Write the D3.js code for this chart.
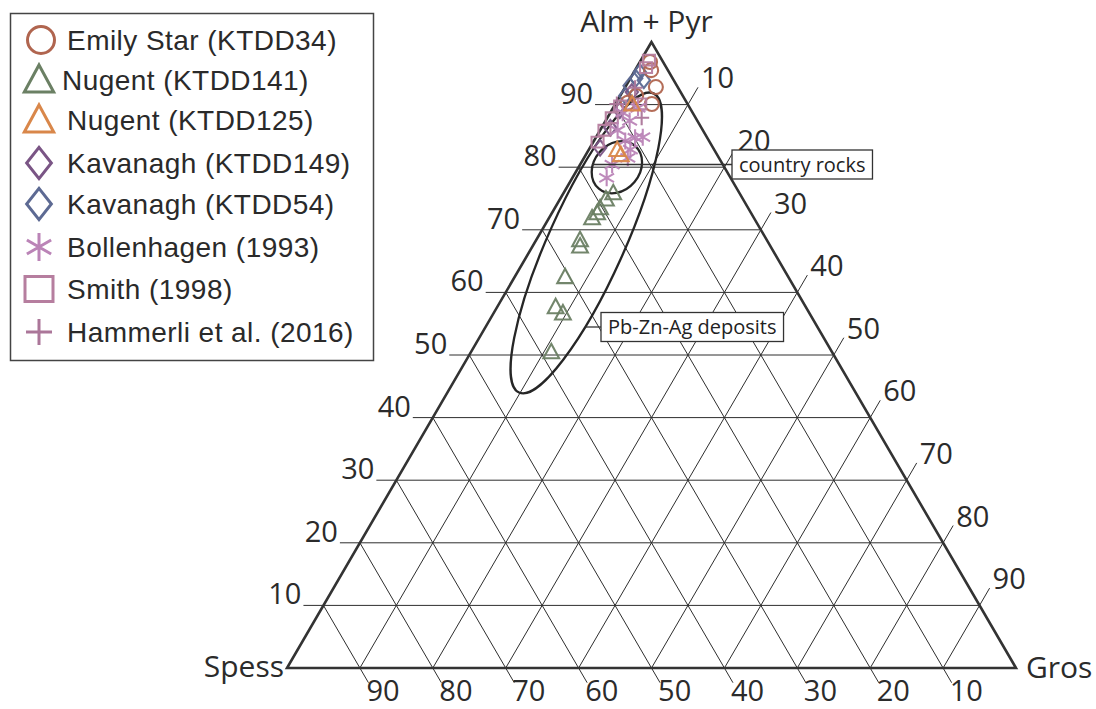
<!DOCTYPE html>
<html>
<head>
<meta charset="utf-8">
<script src="https://cdn.jsdelivr.net/npm/d3@7"></script>
<style>
  body { margin: 0; background: #fff; }
  svg { display: block; }
</style>
</head>
<body>
<div id="chart"></div>
<script>
// garnet compositions, [Alm+Pyr, Spess, Gros] in %
var emilyStar = [[96.8,1.8,1.4],[95.5,2.3,2.2],[92.8,3.0,4.2],[90.1,4.9,5.0],[91.4,6.4,2.2],[90.3,8.1,1.6]];
var nugent141 = [[75.9,17.3,6.8],[74.9,18.8,6.3],[73.5,20.3,6.2],[72.7,21.1,6.2],[71.9,22.2,5.9],[68.4,25.6,6.0],
                 [67.4,26.1,6.5],[62.5,30.6,6.9],[57.7,34.3,8.0],[56.7,33.8,9.5],[50.5,38.5,11.0]];
var nugent125 = [[82.8,13.3,3.9],[82.0,13.2,4.8],[90.1,7.6,2.3]];
var kavanagh149 = [[83.1,15.5,1.4],[86.3,12.5,1.2],[89.1,9.8,1.1],[92.0,6.7,1.3]];
var kavanagh54 = [[95.2,4.0,0.8],[94.2,5.0,0.8],[93.0,6.5,0.5],[93.9,4.1,2.0],[91.4,7.9,0.7]];
var bollenhagen = [[88.7,9.6,1.7],[87.4,9.3,3.3],[84.8,8.8,6.4],[84.7,9.9,5.4],[84.2,11.5,4.3],[82.8,11.5,5.7],
                   [81.5,12.5,6.0],[85.9,11.7,2.4],[78.3,17.0,4.7],[80.4,15.2,4.4],[89.5,7.1,3.4]];
var smith = [[97.1,1.8,1.1],[95.9,2.8,1.3],[89.8,9.4,0.8],[87.9,11.5,0.6],[85.9,13.5,0.6],[84.0,15.4,0.6],[90.1,6.5,3.4]];
var hammerli = [[92.7,5.9,1.4],[90.1,9.7,0.2],[87.9,7.4,4.7]];

var seriesNames = ["Emily Star (KTDD34)","Nugent (KTDD141)","Nugent (KTDD125)","Kavanagh (KTDD149)",
                   "Kavanagh (KTDD54)","Bollenhagen (1993)","Smith (1998)","Hammerli et al. (2016)"];
var tickValues = [10,20,30,40,50,60,70,80,90];
var cornerLabels = ["Alm + Pyr","Spess","Gros"];
var fieldLabels = ["country rocks","Pb-Zn-Ag deposits"];
// ellipse centres [Alm+Pyr, Spess, Gros]
var fieldCentres = [[80.0,14.75,5.25],[67.9,25.0,7.1]];

var series = [
  {name: seriesNames[0], data: emilyStar, shape: "circle", color: "#b0654f"},
  {name: seriesNames[1], data: nugent141, shape: "triangle", color: "#6b8064"},
  {name: seriesNames[2], data: nugent125, shape: "triangle", color: "#d9874a"},
  {name: seriesNames[3], data: kavanagh149, shape: "diamond", color: "#7a5585"},
  {name: seriesNames[4], data: kavanagh54, shape: "diamond", color: "#5d6a93"},
  {name: seriesNames[5], data: bollenhagen, shape: "asterisk", color: "#bb84b7"},
  {name: seriesNames[6], data: smith, shape: "square", color: "#b67e9f"},
  {name: seriesNames[7], data: hammerli, shape: "plus", color: "#ab7699"}
];

var width = 1096, height = 709;
var axisFont = "'Open Sans', sans-serif";
var lineCol = "#333";

var svg = d3.select("#chart").append("svg")
  .attr("width", width)
  .attr("height", height);

// x along the base (Gros + Alm/2), y by Alm
var x = d3.scaleLinear().domain([0,100]).range([287,1016]);
var y = d3.scaleLinear().domain([0,100]).range([668,42]);

function proj(d) {
  var t = d[0] + d[1] + d[2];
  var a = d[0] * 100 / t, g = d[2] * 100 / t;
  return [x(g + a / 2), y(a)];
}

// corners and unit vectors of the two sloping sides
var pAlm = proj([100,0,0]), pSp = proj([0,100,0]), pGr = proj([0,0,100]);
function unit(p, q) { var dx = q[0]-p[0], dy = q[1]-p[1], l = Math.sqrt(dx*dx+dy*dy); return [dx/l, dy/l]; }
var downRight = unit(pAlm, pGr);   // along right side
var upRight = unit(pSp, pAlm);     // along left side

var grid = svg.append("g")
  .attr("stroke", "#2e2e2e")
  .attr("stroke-width", 1)
  .attr("fill", "none");

var labels = svg.append("g")
  .style("font-family", axisFont)
  .style("font-size", "29px")
  .attr("fill", "#2b2b2b");

tickValues.forEach(function(t) {
  // Alm + Pyr, horizontal
  var l = proj([t,100-t,0]), r = proj([t,0,100-t]);
  grid.append("line").attr("x1", l[0]-20).attr("y1", l[1]).attr("x2", r[0]).attr("y2", r[1]);
  labels.append("text").attr("x", l[0]-22).attr("y", l[1]-1).attr("text-anchor", "end").text(t);

  // Spess, parallel to the right side
  var b = proj([0,t,100-t]), e = proj([100-t,t,0]);
  var bt = [b[0] + downRight[0]*17, b[1] + downRight[1]*17];
  grid.append("line").attr("x1", bt[0]).attr("y1", bt[1]).attr("x2", e[0]).attr("y2", e[1]);
  labels.append("text").attr("x", bt[0]-2).attr("y", bt[1]+18).text(t);

  // Gros, parallel to the left side
  var b2 = proj([0,100-t,t]), e2 = proj([100-t,0,t]);
  var et = [e2[0] + upRight[0]*20, e2[1] + upRight[1]*20];
  grid.append("line").attr("x1", b2[0]).attr("y1", b2[1]).attr("x2", et[0]).attr("y2", et[1]);
  labels.append("text").attr("x", et[0]+3).attr("y", et[1]+1).text(t);
});

// outline
svg.append("path")
  .attr("d", d3.line()([pAlm, pSp, pGr]) + "Z")
  .attr("fill", "none")
  .attr("stroke", lineCol)
  .attr("stroke-width", 2.6)
  .attr("stroke-linejoin", "miter");

var corners = svg.append("g")
  .style("font-family", axisFont)
  .style("font-size", "30px")
  .attr("fill", "#2b2b2b");
corners.append("text").attr("x", pAlm[0]-5).attr("y", pAlm[1]-10).attr("text-anchor", "middle").text(cornerLabels[0]);
corners.append("text").attr("x", pSp[0]-3).attr("y", pSp[1]+9).attr("text-anchor", "end").text(cornerLabels[1]);
corners.append("text").attr("x", pGr[0]+10).attr("y", pGr[1]+10).text(cornerLabels[2]);

// marker shapes
function shapePath(shape, r) {
  switch (shape) {
    case "circle":
      return "M" + r + ",0A" + r + "," + r + " 0 1,1 " + (-r) + ",0A" + r + "," + r + " 0 1,1 " + r + ",0Z";
    case "triangle":
      return "M0," + (-r) + "L" + (r*0.98) + "," + (r*0.8) + "L" + (-r*0.98) + "," + (r*0.8) + "Z";
    case "diamond":
      return "M0," + (-r*1.2) + "L" + (r*0.95) + ",0L0," + (r*1.2) + "L" + (-r*0.95) + ",0Z";
    case "square":
      return "M" + (-r) + "," + (-r*0.9) + "H" + r + "V" + (r*0.9) + "H" + (-r) + "Z";
    case "plus":
      return "M" + (-r) + ",0H" + r + "M0," + (-r) + "V" + r;
    case "asterisk":
      var p = "";
      [90, 30, 150].forEach(function(a) {
        var c = Math.cos(a*Math.PI/180)*r, s = Math.sin(a*Math.PI/180)*r;
        p += "M" + (-c) + "," + (-s) + "L" + c + "," + s;
      });
      return p;
  }
}
var plotSize = {circle: 7, triangle: 8, diamond: 6.5, square: 6, plus: 7.5, asterisk: 8.5};

// fields
var ellipses = svg.append("g").attr("fill", "none").attr("stroke", "#262626").attr("stroke-width", 2.3);
var cr = proj(fieldCentres[0]), pb = proj(fieldCentres[1]);
ellipses.append("ellipse").attr("cx", 0).attr("cy", 0).attr("rx", 28).attr("ry", 23)
  .attr("transform", "translate(" + cr[0] + "," + cr[1] + ") rotate(-50)");
ellipses.append("ellipse").attr("cx", 0).attr("cy", 0).attr("rx", 164).attr("ry", 38)
  .attr("transform", "translate(" + pb[0] + "," + pb[1] + ") rotate(-65.8)");

// points
var order = [1, 4, 3, 0, 6, 7, 5, 2];
order.forEach(function(i) {
  var s = series[i];
  svg.append("g").selectAll("path")
    .data(s.data)
    .enter().append("path")
    .attr("transform", function(d) { var p = proj(d); return "translate(" + p[0] + "," + p[1] + ")"; })
    .attr("d", shapePath(s.shape, plotSize[s.shape]))
    .attr("fill", "none")
    .attr("stroke", s.color)
    .attr("stroke-width", 2.1)
    .attr("opacity", 0.95);
});

// field labels with leaders
function boxLabel(txt, x0, yMid, lx) {
  var g = svg.append("g");
  var t = g.append("text")
    .attr("x", x0 + 7)
    .attr("y", yMid + 7)
    .style("font-family", axisFont)
    .style("font-size", "20px")
    .attr("fill", "#222")
    .text(txt);
  var w = t.node().getComputedTextLength();
  g.insert("rect", "text")
    .attr("x", x0).attr("y", yMid - 14.5)
    .attr("width", w + 14).attr("height", 29)
    .attr("fill", "#fff").attr("stroke", "#333").attr("stroke-width", 1.3);
  svg.append("line").attr("x1", lx).attr("y1", yMid).attr("x2", x0).attr("y2", yMid)
    .attr("stroke", "#333").attr("stroke-width", 1.3);
}
boxLabel(fieldLabels[0], 732, 164.5, cr[0] - 25);
boxLabel(fieldLabels[1], 601, 327, 585);

// legend
var legend = svg.append("g");
legend.append("rect")
  .attr("x", 10.5).attr("y", 13.5).attr("width", 363).attr("height", 347)
  .attr("fill", "#fff").attr("stroke", "#444").attr("stroke-width", 1.5);
var legendSize = {circle: 13.5, triangle: 15, diamond: 13, square: 14, plus: 13, asterisk: 14};
var rowY = [40, 80, 120, 163, 204, 247, 289, 332];
series.forEach(function(s, i) {
  var ry = rowY[i];
  legend.append("path")
    .attr("transform", "translate(" + (s.shape === "circle" ? 41 : 39) + "," + ry + ")")
    .attr("d", shapePath(s.shape, legendSize[s.shape]))
    .attr("fill", "none")
    .attr("stroke", s.color)
    .attr("stroke-width", 3);
  legend.append("text")
    .attr("x", s.name.indexOf("KTDD141") > 0 ? 62 : 67)
    .attr("y", ry + 9.5)
    .style("font-family", "'Liberation Sans', Arial, sans-serif")
    .style("font-size", "28px")
    .style("letter-spacing", "0.45px")
    .attr("fill", "#2a2a2a")
    .text(s.name);
});
</script>
</body>
</html>
